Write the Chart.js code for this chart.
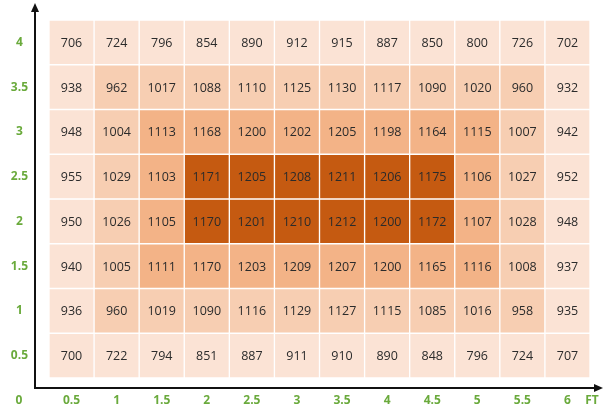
<!DOCTYPE html>
<html>
<head>
<meta charset="utf-8">
<script src="https://cdn.jsdelivr.net/npm/chart.js@4.4.0/dist/chart.umd.min.js"></script>
<style>
  html, body { margin: 0; padding: 0; background: #fff; }
  #wrap { width: 603px; height: 409px; }
</style>
</head>
<body>
<div id="wrap"><canvas id="heat" width="603" height="409"></canvas></div>
<script>
// column positions along the bottom, row positions up the side (top to bottom)
var xLabels = ['0.5', '1', '1.5', '2', '2.5', '3', '3.5', '4', '4.5', '5', '5.5', '6'];
var yRows = [4, 3.5, 3, 2.5, 2, 1.5, 1, 0.5];
var yTicks = [0.5, 1, 1.5, 2, 2.5, 3, 3.5, 4];

var row4  = [706, 724, 796, 854, 890, 912, 915, 887, 850, 800, 726, 702];
var row35 = [938, 962, 1017, 1088, 1110, 1125, 1130, 1117, 1090, 1020, 960, 932];
var row3  = [948, 1004, 1113, 1168, 1200, 1202, 1205, 1198, 1164, 1115, 1007, 942];
var row25 = [955, 1029, 1103, 1171, 1205, 1208, 1211, 1206, 1175, 1106, 1027, 952];
var row2  = [950, 1026, 1105, 1170, 1201, 1210, 1212, 1200, 1172, 1107, 1028, 948];
var row15 = [940, 1005, 1111, 1170, 1203, 1209, 1207, 1200, 1165, 1116, 1008, 937];
var row1  = [936, 960, 1019, 1090, 1116, 1129, 1127, 1115, 1085, 1016, 958, 935];
var row05 = [700, 722, 794, 851, 887, 911, 910, 890, 848, 796, 724, 707];
var rows = [row4, row35, row3, row25, row2, row15, row1, row05];

// shading rings, from the outside in
var ringColors = ['#fbe3d5', '#f7ceb2', '#f3b387', '#c55a11'];
var green = '#6aaa3c';

function ring(r, c) {
    var n = Math.min(c, xLabels.length - 1 - c, r, rows.length - 1 - r);
    return ringColors[Math.min(n, 3)];
}

var datasets = rows.map(function (vals, r) {
    var y = yRows[r];
    return {
        label: 'y ' + y,
        values: vals,
        data: vals.map(function () { return [y - 0.25, y + 0.25]; }),
        backgroundColor: vals.map(function (v, c) { return ring(r, c); }),
        borderColor: 'rgba(255,255,255,0.85)',
        borderWidth: 1,
        borderSkipped: false,
        barPercentage: 1,
        categoryPercentage: 1,
        grouped: false
    };
});

var cellText = {
    id: 'cellText',
    afterDatasetsDraw: function (chart) {
        var ctx = chart.ctx;
        ctx.save();
        ctx.font = '12.5px "Open Sans"';
        ctx.fillStyle = '#2b2b2b';
        ctx.textAlign = 'center';
        ctx.textBaseline = 'middle';
        chart.data.datasets.forEach(function (ds, i) {
            chart.getDatasetMeta(i).data.forEach(function (bar, j) {
                ctx.fillText(String(ds.values[j]), bar.x, (bar.y + bar.base) / 2 + 1);
            });
        });
        ctx.restore();
    }
};

var axesArrows = {
    id: 'axesArrows',
    afterDraw: function (chart) {
        var ctx = chart.ctx;
        var ax = 35, ay = 388;
        ctx.save();
        ctx.strokeStyle = '#111';
        ctx.fillStyle = '#111';
        ctx.lineWidth = 2;
        ctx.beginPath();
        ctx.moveTo(ax, ay);
        ctx.lineTo(ax, 10);
        ctx.moveTo(ax - 1, ay);
        ctx.lineTo(597, ay);
        ctx.stroke();
        ctx.beginPath();
        ctx.moveTo(ax, 3);
        ctx.lineTo(ax - 4, 12);
        ctx.lineTo(ax + 4, 12);
        ctx.closePath();
        ctx.fill();
        ctx.beginPath();
        ctx.moveTo(603, ay);
        ctx.lineTo(594, ay - 4);
        ctx.lineTo(594, ay + 4);
        ctx.closePath();
        ctx.fill();
        ctx.font = 'bold 12px "Open Sans"';
        ctx.fillStyle = green;
        ctx.textAlign = 'center';
        ctx.textBaseline = 'middle';
        ctx.fillText('0', 19, 401);
        ctx.fillText('FT', 592, 401);
        ctx.restore();
    }
};

new Chart(document.getElementById('heat'), {
    type: 'bar',
    data: { labels: xLabels, datasets: datasets },
    options: {
        responsive: false,
        animation: false,
        layout: { padding: { top: 20, right: 13, left: 0, bottom: 0 } },
        plugins: { legend: { display: false }, tooltip: { enabled: false } },
        scales: {
            x: {
                grid: { display: false, drawTicks: false },
                border: { display: false },
                ticks: {
                    color: green,
                    font: { family: 'Open Sans', size: 12, weight: 'bold' },
                    padding: 15,
                    maxRotation: 0,
                    autoSkip: false
                },
                afterFit: function (s) { s.height = 31; s.paddingLeft = 0; s.paddingRight = 0; }
            },
            y: {
                min: 0.25,
                max: 4.25,
                grid: { display: false, drawTicks: false },
                border: { display: false },
                afterBuildTicks: function (s) {
                    s.ticks = yTicks.map(function (v) { return { value: v }; });
                },
                ticks: {
                    color: green,
                    font: { family: 'Open Sans', size: 12, weight: 'bold' },
                    padding: 21,
                    crossAlign: 'center',
                    callback: function (v) { return String(v); }
                },
                afterFit: function (s) { s.width = 49; s.paddingTop = 0; s.paddingBottom = 0; }
            }
        }
    },
    plugins: [cellText, axesArrows]
});
</script>
</body>
</html>
